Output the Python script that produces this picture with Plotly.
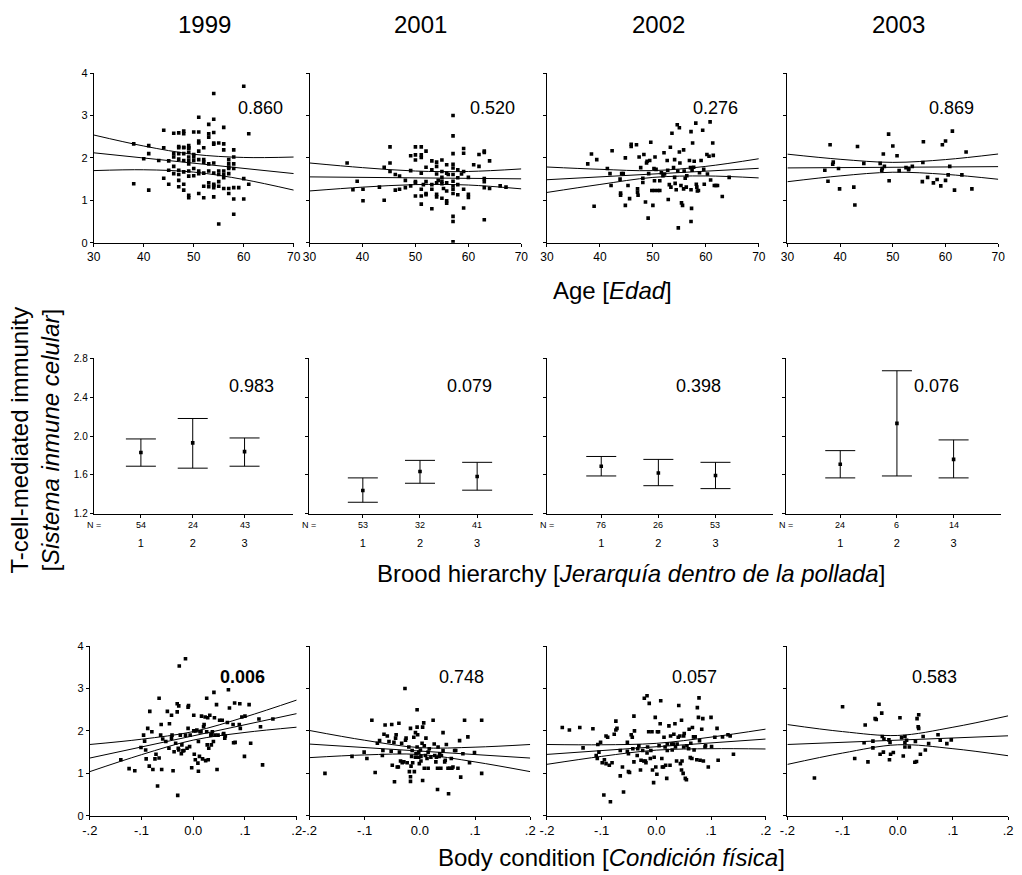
import plotly.graph_objects as go

W, H = 1022, 875
FONT = "Arial, Liberation Sans, sans-serif"

YEARS = ["1999", "2001", "2002", "2003"]
AGE_TICKS = [30, 40, 50, 60, 70]
COND_TICKS = [-0.2, -0.1, 0.0, 0.1, 0.2]
COND_TICKTEXT = ["-.2", "-.1", "0.0", ".1", ".2"]
CMI_TICKS = [0, 1, 2, 3, 4]
BROOD_TICKS = [1.2, 1.6, 2.0, 2.4, 2.8]
BROOD_TICKTEXT = ["1.2", "1.6", "2.0", "2.4", "2.8"]

# ---- Age vs T-cell-mediated immunity (x = age, y = CMI) ----
AGE_1999 = [(38,2.33),(38,1.39),(40,1.98),(41,2.29),(41,2.10),(41,1.24),(43,1.94),(44,2.65),(44,2.24),(44,1.52),
            (45,1.38),(45,1.71),(46,2.10),(46,2.02),(46,1.63),(46,2.58),(47,2.27),(47,2.10),(47,2.59),(47,1.97),
            (47,1.61),(47,1.47),(47,1.32),(47,2.24),(47,1.71),(48,2.63),(48,2.24),(48,2.10),(48,1.94),(48,1.38),
            (48,1.24),(48,2.57),(48,2.25),(49,2.29),(49,2.22),(49,2.13),(49,2.02),(49,1.86),(49,1.69),(49,1.57),
            (49,1.12),(49,1.06),(49,2.24),(49,1.94),(50,2.61),(50,2.08),(50,1.94),(50,1.58),(50,2.02),(51,2.96),
            (51,2.61),(51,2.40),(51,2.35),(51,2.16),(51,1.96),(51,1.16),(51,1.69),(51,1.63),(52,1.06),(52,2.24),
            (52,1.33),(52,1.96),(52,1.90),(53,2.79),(53,2.57),(53,2.49),(53,1.69),(53,1.41),(53,1.86),(53,1.32),
            (54,2.91),(54,2.60),(54,2.35),(54,2.32),(54,1.88),(54,1.64),(54,1.35),(54,1.30),(54,1.38),(54,1.08),
            (54,3.52),(55,1.33),(55,1.44),(55,1.69),(55,1.61),(55,2.35),(55,0.44),(56,2.72),(56,2.33),(56,1.69),
            (56,1.28),(56,1.53),(56,1.61),(56,2.19),(57,1.63),(57,1.28),(57,1.96),(57,1.86),(57,1.16),(57,1.75),
            (57,1.78),(58,2.19),(58,2.02),(58,1.75),(58,1.30),(58,1.03),(58,0.67),(58,1.86),(59,1.30),(60,3.69),
            (60,1.51),(60,1.03),(61,2.57),(61,1.38),(52,1.64),(50,1.75),(46,1.80),(45,1.93),(48,1.67)]
AGE_2001 = [(37.1,1.88),(39.0,1.45),(38.2,1.25),(40.1,1.26),(40.1,0.99),(43.2,1.31),(44.1,1.78),(44.1,1.00),
            (45.2,2.26),(45.2,1.88),(45.2,1.68),(46.2,1.61),(46.2,1.24),(47.0,1.57),(47.0,1.26),(48.1,1.47),
            (48.1,1.30),(49.1,1.70),(49.1,2.05),(49.1,1.34),(50.0,2.26),(50.0,2.07),(50.0,1.95),(50.0,1.44),
            (50.0,1.41),(50.0,1.10),(51.1,2.26),(51.1,2.07),(51.1,2.01),(51.1,1.64),(51.1,1.26),(51.1,1.10),
            (51.1,0.91),(52.0,2.16),(52.0,1.78),(52.0,1.44),(52.0,1.13),(52.0,1.16),(53.1,1.93),(53.1,1.72),
            (53.1,1.37),(53.1,1.26),(53.1,0.80),(54.0,1.90),(54.0,1.80),(54.0,1.62),(54.0,1.41),(54.0,1.14),
            (54.0,1.08),(55.0,1.95),(55.0,1.68),(55.0,1.54),(55.0,1.45),(55.0,1.39),(55.0,1.05),(55.9,1.84),
            (55.9,1.64),(55.9,1.41),(55.9,1.22),(55.9,0.93),(55.9,0.99),(56.2,1.61),(57.1,3.00),(57.1,2.52),
            (57.1,2.10),(57.1,1.85),(57.1,1.76),(57.1,1.61),(57.1,1.45),(57.1,1.34),(57.1,1.26),(57.1,1.16),
            (57.1,0.62),(57.1,0.50),(57.1,0.02),(58.0,1.72),(58.0,1.53),(58.0,1.37),(58.0,1.13),(59.1,2.22),
            (59.1,2.11),(59.1,1.68),(59.1,1.26),(59.1,0.82),(60.0,1.54),(60.0,1.14),(60.0,1.07),(61.0,1.84),
            (62.0,2.08),(62.0,1.80),(63.0,2.16),(63.0,2.13),(63.0,1.51),(63.0,1.44),(63.0,1.30),(63.0,0.54),
            (64.0,1.93),(64.0,1.28),(66.0,1.34),(67.1,1.31),(54.3,1.47),(51.5,1.37),(55.3,1.28),(58.7,1.62)]
AGE_2002 = [(37.7,1.86),(38.4,2.09),(39.4,1.96),(38.9,0.86),(41.4,1.75),(41.9,1.63),(42.1,1.35),(42.3,2.17),
            (43.9,1.17),(43.9,1.12),(44.1,1.63),(44.4,1.63),(43.8,1.50),(44.8,2.00),(44.8,0.88),(45.6,1.04),
            (45.9,2.32),(45.9,2.27),(46.9,2.31),(47.1,1.27),(47.1,1.19),(47.2,1.12),(47.4,2.02),(47.7,1.77),
            (48.1,1.42),(48.3,2.08),(48.6,0.96),(48.8,1.88),(48.9,1.92),(49.1,0.58),(49.2,1.63),(49.4,1.94),
            (49.6,2.37),(49.8,1.23),(50.0,0.88),(50.2,1.75),(50.3,1.46),(50.3,1.23),(50.4,2.02),(50.6,1.73),
            (50.9,1.23),(51.3,1.23),(51.6,1.65),(51.9,1.58),(52.1,2.12),(52.2,1.62),(52.7,1.94),(52.8,1.71),
            (52.9,1.02),(53.1,1.37),(53.3,2.25),(53.4,1.31),(53.6,2.58),(53.9,1.77),(54.1,1.96),(54.2,1.40),
            (54.4,1.25),(54.6,2.78),(54.7,1.69),(54.8,0.35),(55.0,2.71),(55.0,2.14),(55.1,1.88),(55.3,1.35),
            (55.4,0.94),(55.6,0.88),(55.8,1.27),(55.8,2.19),(55.9,1.69),(56.1,1.52),(56.3,1.31),(56.4,1.58),
            (56.9,1.94),(57.1,1.77),(57.2,2.62),(57.2,1.25),(57.2,0.50),(57.3,0.81),(57.4,1.71),(57.5,2.35),
            (57.7,1.78),(57.8,1.92),(58.1,2.82),(58.2,1.38),(58.3,1.31),(58.4,1.22),(58.6,1.23),(58.8,1.65),
            (59.1,1.94),(59.4,2.65),(59.6,1.73),(59.7,1.38),(60.2,2.08),(60.3,1.62),(60.6,2.04),(60.8,2.85),
            (60.9,1.48),(61.3,2.35),(61.4,2.06),(61.6,1.35),(61.9,1.35),(62.2,1.35),(63.1,1.09),(64.4,1.54),
            (54.1,1.54),(51.3,1.46),(48.1,1.52),(45.3,1.35)]
AGE_2003 = [(37.1,1.71),(37.7,1.45),(38.1,2.31),(38.6,1.85),(38.7,1.90),(39.7,1.75),(39.9,1.27),(42.6,1.31),
            (42.8,0.89),(43.3,2.27),(44.5,1.87),(47.6,1.87),(47.9,1.71),(48.0,1.75),(48.2,2.09),(48.4,1.80),
            (49.2,2.56),(49.3,1.46),(50.0,2.28),(50.8,2.05),(51.2,1.70),(52.5,1.77),(53.0,1.72),(53.7,1.80),
            (55.6,1.44),(55.7,1.89),(55.8,2.38),(56.6,1.54),(57.7,1.41),(58.4,1.49),(59.1,1.34),(59.4,2.31),
            (60.0,2.40),(60.0,1.47),(60.5,1.60),(60.8,1.80),(61.3,2.63),(61.7,1.24),(63.1,1.60),(63.9,2.14),
            (65.0,1.27),(53.0,1.75)]

# fitted line (value at x=30 and x=70) and confidence limits at x = 30, 40, 50, 60, 70
AGE_FIT = [(2.12, 1.63), (1.552, 1.506), (1.485, 1.754), (1.763, 1.794)]
AGE_UPPER = [[2.54, 2.28, 2.085, 2.01, 2.02],
             [1.88, 1.77, 1.69, 1.68, 1.74],
             [1.785, 1.731, 1.70, 1.80, 1.98],
             [2.088, 1.967, 1.894, 1.96, 2.092]]
AGE_LOWER = [[1.70, 1.72, 1.665, 1.49, 1.24],
             [1.22, 1.31, 1.37, 1.36, 1.27],
             [1.185, 1.373, 1.54, 1.574, 1.528],
             [1.438, 1.575, 1.662, 1.612, 1.496]]

# ---- Brood hierarchy: mean and 95% CI per rank ----
BROOD_CATS = [1, 2, 3]
BROOD_N = [[54, 24, 43], [53, 32, 41], [76, 26, 53], [24, 6, 14]]
BROOD_MEAN = [[1.83, 1.93, 1.84], [1.44, 1.635, 1.585], [1.69, 1.62, 1.595], [1.71, 2.13, 1.76]]
BROOD_HI = [[1.97, 2.18, 1.98], [1.57, 1.75, 1.73], [1.79, 1.76, 1.73], [1.85, 2.67, 1.96]]
BROOD_LO = [[1.69, 1.67, 1.69], [1.32, 1.515, 1.444], [1.59, 1.49, 1.46], [1.57, 1.59, 1.57]]

# ---- Body condition vs CMI ----
COND_1999 = [(-0.140,1.32),(-0.124,1.11),(-0.113,1.06),(-0.101,1.61),(-0.096,1.90),(-0.094,1.76),(-0.092,1.55),
             (-0.091,1.34),(-0.088,2.06),(-0.084,2.46),(-0.085,1.17),(-0.080,1.98),(-0.078,1.09),(-0.074,1.34),
             (-0.072,1.45),(-0.069,0.70),(-0.066,2.77),(-0.066,1.36),(-0.063,1.90),(-0.062,2.15),(-0.061,1.09),
             (-0.059,1.81),(-0.053,1.75),(-0.050,2.46),(-0.046,2.17),(-0.042,1.83),(-0.042,2.37),(-0.041,1.90),
             (-0.039,1.06),(-0.037,1.51),(-0.034,1.71),(-0.031,2.64),(-0.031,2.45),(-0.030,0.48),(-0.029,1.59),
             (-0.028,2.59),(-0.028,1.55),(-0.027,3.53),(-0.025,1.90),(-0.023,1.46),(-0.022,1.67),(-0.020,1.53),
             (-0.018,1.54),(-0.015,3.70),(-0.012,1.59),(-0.010,2.06),(-0.010,2.56),(-0.009,2.60),(-0.007,1.63),
             (-0.006,1.90),(-0.003,1.13),(0.001,2.37),(0.001,2.00),(0.002,1.45),(0.004,1.32),(0.005,2.00),
             (0.007,2.02),(0.009,1.24),(0.010,1.05),(0.012,1.40),(0.013,1.98),(0.015,1.98),(0.016,2.35),
             (0.018,1.34),(0.020,2.10),(0.021,2.15),(0.023,2.33),(0.024,1.30),(0.026,2.77),(0.026,1.98),
             (0.027,1.67),(0.028,2.31),(0.029,1.32),(0.030,1.59),(0.032,2.37),(0.034,1.90),(0.035,1.92),
             (0.037,1.98),(0.039,1.75),(0.040,2.91),(0.041,2.31),(0.042,1.90),(0.045,2.62),(0.046,1.09),
             (0.048,1.90),(0.051,2.25),(0.056,2.25),(0.058,1.92),(0.059,1.94),(0.062,1.88),(0.066,2.20),
             (0.068,2.97),(0.070,2.54),(0.077,2.15),(0.078,1.72),(0.080,2.66),(0.081,1.73),(0.089,2.15),
             (0.090,2.64),(0.091,2.06),(0.094,2.33),(0.099,1.40),(0.100,2.35),(0.108,2.62),(0.111,1.71),
             (0.127,2.28),(0.130,2.10),(0.134,1.20),(0.154,2.28),(-0.047,1.59),(-0.015,1.90),(0.010,1.75),
             (0.035,1.67),(0.061,1.83)]
COND_2001 = [(-0.172,1.00),(-0.123,1.40),(-0.101,1.50),(-0.096,1.35),(-0.087,2.25),(-0.081,1.02),(-0.077,1.71),
             (-0.073,1.77),(-0.068,1.42),(-0.067,1.54),(-0.065,1.92),(-0.063,2.14),(-0.059,1.88),(-0.056,1.75),
             (-0.052,1.52),(-0.051,2.15),(-0.050,1.19),(-0.047,1.73),(-0.046,0.80),(-0.044,1.83),(-0.043,1.91),
             (-0.041,1.15),(-0.039,1.15),(-0.038,2.18),(-0.037,1.50),(-0.035,1.29),(-0.033,1.71),(-0.032,1.25),
             (-0.029,1.27),(-0.027,3.00),(-0.026,1.78),(-0.025,1.83),(-0.023,1.25),(-0.020,1.62),(-0.019,1.04),
             (-0.017,2.06),(-0.017,0.92),(-0.017,0.81),(-0.016,1.17),(-0.015,1.40),(-0.014,1.54),(-0.013,1.25),
             (-0.011,1.85),(-0.010,1.04),(-0.008,1.96),(-0.008,1.38),(-0.007,1.46),(-0.005,2.50),(-0.005,1.62),
             (-0.005,2.09),(-0.004,1.91),(-0.002,1.38),(-0.001,1.23),(0.001,1.55),(0.002,1.29),(0.002,1.40),
             (0.004,1.71),(0.005,2.09),(0.005,0.83),(0.007,2.19),(0.008,1.12),(0.008,1.65),(0.010,1.42),
             (0.011,1.83),(0.013,1.35),(0.015,1.12),(0.017,1.58),(0.020,1.38),(0.024,2.25),(0.026,1.69),
             (0.027,1.42),(0.029,1.27),(0.030,1.38),(0.032,0.62),(0.032,1.12),(0.033,1.62),(0.035,1.40),
             (0.036,1.46),(0.038,1.12),(0.039,1.42),(0.042,1.96),(0.045,1.27),(0.046,1.31),(0.048,1.68),
             (0.051,1.12),(0.052,0.52),(0.054,1.12),(0.057,1.35),(0.058,1.12),(0.060,1.15),(0.063,1.54),
             (0.065,1.54),(0.069,1.12),(0.072,1.77),(0.074,0.91),(0.078,1.46),(0.081,2.25),(0.087,1.86),
             (0.090,1.25),(0.099,1.49),(0.112,1.00),(0.112,2.25),(-0.002,1.50),(0.015,1.50),(0.042,1.54)]
COND_2002 = [(-0.172,2.08),(-0.159,2.02),(-0.140,2.08),(-0.134,1.60),(-0.116,2.05),(-0.110,1.42),(-0.108,1.35),
             (-0.107,1.68),(-0.105,1.50),(-0.102,1.73),(-0.099,1.25),(-0.096,0.49),(-0.095,1.32),(-0.092,1.23),
             (-0.092,1.88),(-0.089,1.85),(-0.086,1.19),(-0.084,0.33),(-0.081,1.25),(-0.077,1.92),(-0.074,2.02),
             (-0.074,2.23),(-0.072,2.06),(-0.066,1.54),(-0.066,0.94),(-0.062,1.15),(-0.060,0.56),(-0.053,1.52),
             (-0.053,1.73),(-0.051,1.04),(-0.049,1.02),(-0.046,1.91),(-0.044,1.85),(-0.043,1.58),(-0.041,1.27),
             (-0.041,2.35),(-0.040,2.00),(-0.035,1.42),(-0.034,1.58),(-0.032,1.65),(-0.029,1.08),(-0.028,1.31),
             (-0.025,1.54),(-0.023,1.29),(-0.022,2.77),(-0.020,1.29),(-0.019,1.25),(-0.017,1.48),(-0.017,2.83),
             (-0.014,1.98),(-0.013,2.65),(-0.011,1.35),(-0.010,1.54),(-0.008,1.98),(-0.007,1.08),(-0.005,0.78),
             (-0.004,1.38),(-0.002,2.32),(-0.001,1.15),(0.001,0.98),(0.002,1.98),(0.004,1.98),(0.005,1.65),
             (0.007,2.17),(0.008,2.71),(0.010,1.35),(0.011,1.15),(0.013,1.15),(0.014,1.85),(0.016,1.62),
             (0.017,1.19),(0.019,0.88),(0.020,1.69),(0.023,2.12),(0.025,1.19),(0.026,1.88),(0.028,1.69),
             (0.029,1.55),(0.031,1.69),(0.032,1.92),(0.034,2.17),(0.035,1.62),(0.037,1.29),(0.038,1.69),
             (0.040,1.85),(0.041,2.60),(0.043,1.88),(0.044,1.23),(0.046,1.08),(0.046,2.25),(0.047,1.29),
             (0.049,1.00),(0.050,1.88),(0.051,1.94),(0.053,0.88),(0.055,0.85),(0.056,1.65),(0.059,1.58),
             (0.060,2.04),(0.062,1.37),(0.063,1.71),(0.065,1.35),(0.066,2.08),(0.068,1.86),(0.069,1.55),
             (0.071,1.86),(0.074,1.32),(0.075,2.55),(0.077,2.32),(0.078,2.78),(0.079,1.77),(0.080,1.31),
             (0.083,2.04),(0.085,2.29),(0.086,1.29),(0.089,1.62),(0.090,1.65),(0.095,1.15),(0.100,2.32),
             (0.101,1.63),(0.107,1.85),(0.111,2.06),(0.113,1.31),(0.121,1.86),(0.131,1.91),(0.135,1.88),
             (0.141,1.45),(0.050,1.62),(0.020,1.54),(-0.016,1.62),(-0.051,1.46)]
COND_2003 = [(-0.151,0.89),(-0.100,2.57),(-0.078,1.35),(-0.059,2.14),(-0.061,1.72),(-0.054,1.27),(-0.045,1.76),
             (-0.045,1.60),(-0.041,2.29),(-0.039,2.27),(-0.034,2.63),(-0.032,1.45),(-0.029,2.42),(-0.028,1.87),
             (-0.026,1.50),(-0.025,1.81),(-0.016,1.79),(-0.015,1.32),(-0.014,1.73),(-0.013,1.45),(-0.008,1.49),
             (0.004,2.31),(0.007,1.84),(0.010,1.41),(0.013,1.87),(0.013,1.72),(0.013,1.62),(0.016,1.78),
             (0.021,1.62),(0.031,1.26),(0.032,1.75),(0.034,1.28),(0.035,2.29),(0.037,2.10),(0.038,2.38),
             (0.038,2.06),(0.041,1.45),(0.046,1.87),(0.050,1.55),(0.056,1.70),(0.073,1.91),(0.077,1.78),
             (0.089,1.70),(0.097,1.79)]

# fitted line (value at -.2 and .2) and confidence limits at x = -.2, -.1, 0, .1, .2
COND_FIT = [(1.36, 2.408), (1.69, 1.36), (1.446, 1.808), (1.68, 1.885)]
COND_UPPER = [[1.68, 1.804, 1.984, 2.328, 2.728],
              [2.01, 1.78, 1.605, 1.617, 1.68],
              [1.68, 1.673, 1.707, 1.854, 2.042],
              [2.15, 1.984, 1.893, 2.087, 2.355]]
COND_LOWER = [[1.04, 1.44, 1.784, 1.964, 2.088],
              [1.37, 1.434, 1.445, 1.269, 1.04],
              [1.212, 1.40, 1.547, 1.581, 1.574],
              [1.21, 1.478, 1.673, 1.581, 1.415]]

P_AGE = ["0.860", "0.520", "0.276", "0.869"]
P_BROOD = ["0.983", "0.079", "0.398", "0.076"]
P_COND = ["<b>0.006</b>", "0.748", "0.057", "0.583"]

# ---------------- layout geometry (pixels) ----------------
ROW_X = [
    [(87, 290), (306, 521), (547, 762), (791, 1005)],
    [(87, 289), (305, 533), (547, 776), (790, 1008)],
    [(83, 293), (306, 530), (547, 769), (791, 1015)],
]
ROW_Y = [(68, 240), (357, 515), (649, 821)]
BROOD_RANGES = [(0.09, 3.93), (0.05, 3.98), (0.05, 4.0), (0.05, 3.84)]
P_POS = [
    [(256, 103), (492, 103), (718, 103), (958, 103)],
    [(247, 385), (468, 385), (701, 385), (942, 385)],
    [(238, 680), (460, 680), (697, 680), (940, 680)],
]
YEAR_POS = [(199, 19), (419, 19), (660, 19), (904, 19)]


def fx(px):
    return px / W


def fy(py):
    return 1 - py / H


fig = go.Figure()
layout = {}
annotations = []

line_style = dict(color="black", width=1)
marker_style = dict(symbol="square", size=3.6, color="black")

age_sets = [AGE_1999, AGE_2001, AGE_2002, AGE_2003]
cond_sets = [COND_1999, COND_2001, COND_2002, COND_2003]

for r in range(3):
    for c in range(4):
        n = r * 4 + c + 1
        xa = "x" if n == 1 else f"x{n}"
        ya = "y" if n == 1 else f"y{n}"
        xkey = "xaxis" if n == 1 else f"xaxis{n}"
        ykey = "yaxis" if n == 1 else f"yaxis{n}"
        x0, x1 = ROW_X[r][c]
        y0, y1 = ROW_Y[r]
        common = dict(showline=True, linecolor="black", linewidth=1, ticks="outside",
                      ticklen=3, tickcolor="black", tickwidth=1, showgrid=False, zeroline=False,
                      tickfont=dict(family=FONT, size=12, color="black"))
        if r in (0, 2):
            if r == 0:
                pts = age_sets[c]
                xs_band = AGE_TICKS
                fit, up, lo = AGE_FIT[c], AGE_UPPER[c], AGE_LOWER[c]
                xax = dict(common, range=[30, 70], tickvals=AGE_TICKS,
                           ticktext=[str(t) for t in AGE_TICKS])
            else:
                pts = cond_sets[c]
                xs_band = COND_TICKS
                fit, up, lo = COND_FIT[c], COND_UPPER[c], COND_LOWER[c]
                xax = dict(common, range=[-0.2, 0.2], tickvals=COND_TICKS, ticktext=COND_TICKTEXT,
                           tickfont=dict(family=FONT, size=13, color="black"))
            yax = dict(common, range=[0, 4], tickvals=CMI_TICKS,
                       ticktext=[str(t) for t in CMI_TICKS] if c == 0 else [""] * 5,
                       tickfont=dict(family=FONT, size=11, color="black"))
            fig.add_trace(go.Scatter(x=[p[0] for p in pts], y=[p[1] for p in pts], mode="markers",
                                     marker=marker_style, xaxis=xa, yaxis=ya, hoverinfo="skip"))
            fig.add_trace(go.Scatter(x=[xs_band[0], xs_band[-1]], y=list(fit), mode="lines",
                                     line=line_style, xaxis=xa, yaxis=ya, hoverinfo="skip"))
            for band in (up, lo):
                fig.add_trace(go.Scatter(x=xs_band, y=band, mode="lines",
                                         line=dict(color="black", width=1, shape="spline", smoothing=1.0),
                                         xaxis=xa, yaxis=ya, hoverinfo="skip"))
        else:
            means = BROOD_MEAN[c]
            xax = dict(common, range=list(BROOD_RANGES[c]), tickvals=BROOD_CATS,
                       ticktext=[str(k) for k in BROOD_CATS], ticklabelstandoff=16,
                       tickfont=dict(family=FONT, size=11, color="black"))
            yax = dict(common, range=[1.2, 2.8], tickvals=BROOD_TICKS,
                       ticktext=BROOD_TICKTEXT if c == 0 else [""] * 5,
                       tickfont=dict(family=FONT, size=10, color="black"))
            fig.add_trace(go.Scatter(
                x=BROOD_CATS, y=means, mode="markers", marker=marker_style,
                error_y=dict(type="data", symmetric=False,
                             array=[h - m for h, m in zip(BROOD_HI[c], means)],
                             arrayminus=[m - l for m, l in zip(means, BROOD_LO[c])],
                             width=15, thickness=1, color="black"),
                xaxis=xa, yaxis=ya, hoverinfo="skip"))
            annotations.append(dict(text="N =", x=fx(x0), y=fy(526), xref="paper", yref="paper",
                                    showarrow=False, xanchor="center", yanchor="middle",
                                    font=dict(family=FONT, size=9, color="black")))
            for k, nn in zip(BROOD_CATS, BROOD_N[c]):
                annotations.append(dict(text=str(nn), x=k, y=fy(526), xref=xa, yref="paper",
                                        showarrow=False, xanchor="center", yanchor="middle",
                                        font=dict(family=FONT, size=9, color="black")))
        xax.update(domain=[fx(x0), fx(x1)], anchor=ya)
        yax.update(domain=[fy(y1), fy(y0)], anchor=xa)
        layout[xkey] = xax
        layout[ykey] = yax
        ptxt = [P_AGE, P_BROOD, P_COND][r][c]
        px, py = P_POS[r][c]
        annotations.append(dict(text=ptxt, x=fx(px), y=fy(py), xref="paper", yref="paper",
                                showarrow=False, xanchor="center", yanchor="middle",
                                font=dict(family=FONT, size=18, color="black")))

# column titles
for yr, (px, py) in zip(YEARS, YEAR_POS):
    annotations.append(dict(text=yr, x=fx(px), y=fy(py), xref="paper", yref="paper",
                            showarrow=False, xanchor="center", yanchor="middle",
                            font=dict(family=FONT, size=24, color="black")))

# axis titles
for txt, px, py in [("Age [<i>Edad</i>]", 614, 288),
                    ("Brood hierarchy [<i>Jerarquía dentro de la pollada</i>]", 632, 575),
                    ("Body condition [<i>Condición física</i>]", 612, 863)]:
    annotations.append(dict(text=txt, x=fx(px), y=fy(py), xref="paper", yref="paper",
                            showarrow=False, xanchor="center", yanchor="middle",
                            font=dict(family=FONT, size=24, color="black")))
annotations.append(dict(text="T-cell-mediated immunity<br>[<i>Sistema inmune celular</i>]",
                        x=fx(27), y=fy(440), xref="paper", yref="paper", textangle=-90,
                        showarrow=False, xanchor="center", yanchor="middle",
                        font=dict(family=FONT, size=24, color="black")))

fig.update_layout(width=W, height=H, margin=dict(l=0, r=0, t=0, b=0, pad=0),
                  paper_bgcolor="white", plot_bgcolor="white", showlegend=False,
                  annotations=annotations, **layout)

fig.write_html("out.html", config={"displayModeBar": False},
               post_script="document.body.style.margin='0';document.body.style.overflow='hidden';")
